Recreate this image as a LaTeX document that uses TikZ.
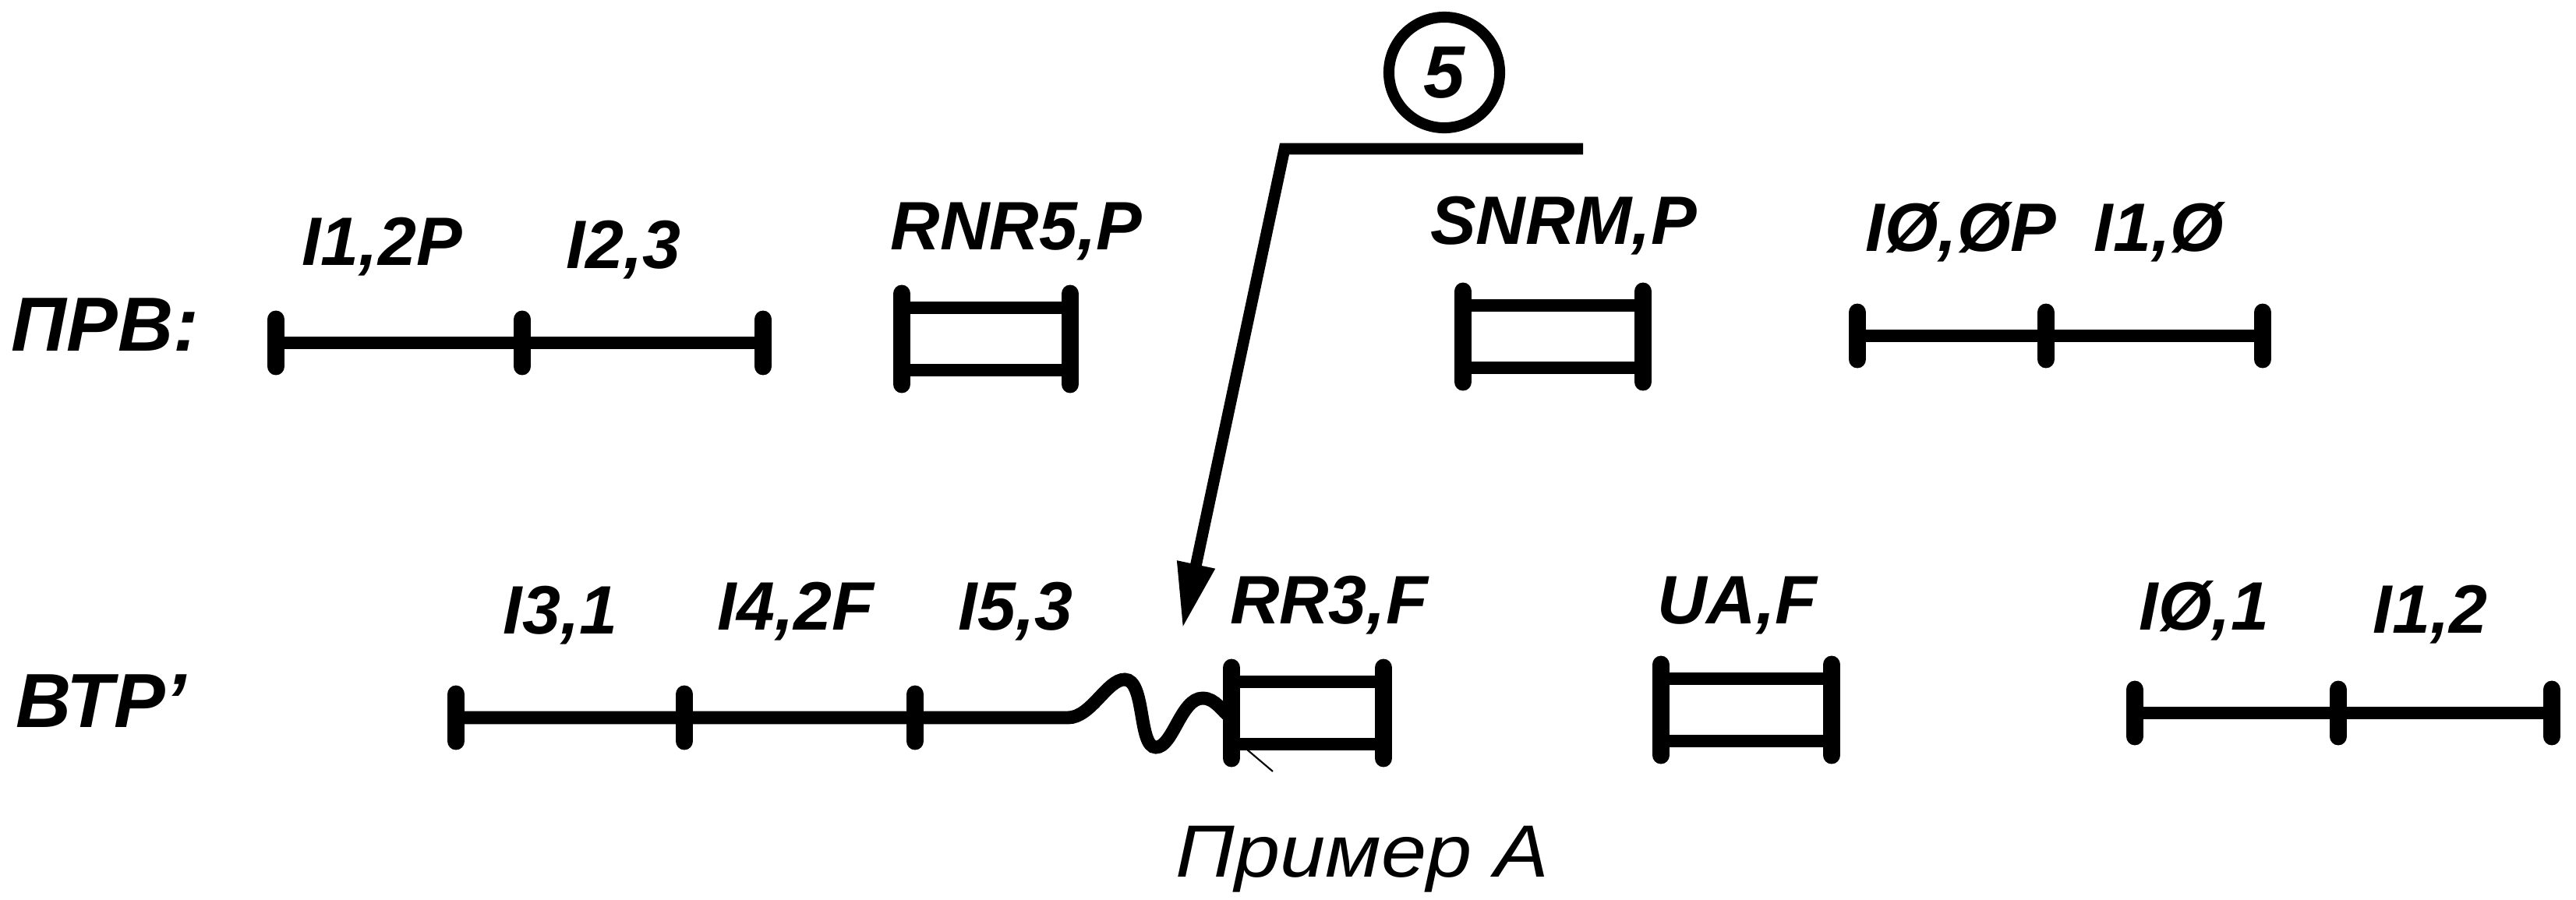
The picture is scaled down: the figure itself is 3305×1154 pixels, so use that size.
\documentclass[tikz,border=0pt]{standalone}
\usepackage{fontspec}
\setmainfont{Liberation Sans}
\usetikzlibrary{arrows.meta}
\newcommand\seqframe[3]{%
  \draw[barline] (#1,#3-58) -- (#1,#3+58);
  \draw[barline] (#2,#3-58) -- (#2,#3+58);
  \draw[hline] (#1,#3-40) -- (#2,#3-40);
  \draw[hline] (#1,#3+40) -- (#2,#3+40);}
\begin{document}
\begin{tikzpicture}[x=0.01cm,y=-0.01cm,
  lbl/.style={anchor=base, inner sep=0pt, font=\fontsize{25}{30}\selectfont\bfseries\itshape},
  rowlbl/.style={anchor=base, inner sep=0pt, font=\fontsize{28}{32}\selectfont\bfseries\itshape},
  seg/.style={line width=4.8pt},
  tickline/.style={line width=6.5pt, line cap=round},
  barline/.style={line width=6.5pt, line cap=round},
  hline/.style={line width=4.8pt},
  leader/.style={line width=4.2pt, -{Triangle[length=24pt,width=13pt]}},
  tk/.pic={\draw[tickline] (0,-30) -- (0,30);}
]
\fill[white] (0,0) rectangle (3305,1154);
\useasboundingbox (0,0) rectangle (3305,1154);

% row labels
\node[rowlbl] (prv) at (135,450) {ПРВ:};
\node[rowlbl] (vtr) at (130,933) {ВТР'};

% ---- top row ----
\coordinate (a1) at (354,440); \coordinate (a2) at (670,440); \coordinate (a3) at (979,440);
\draw[seg] (a1) -- (a3);
\pic at (a1) {tk}; \pic at (a2) {tk}; \pic at (a3) {tk};
\node[lbl] (l11) at (490,340) {I1,2P};
\node[lbl] (l12) at (800,344) {I2,3};

\seqframe{1157}{1373}{435}
\node[lbl] (lrnr) at (1304,320) {RNR5,P};

\seqframe{1877}{2108}{432}
\node[lbl] (lsnrm) at (2006,313) {SNRM,P};

\coordinate (b1) at (2383,431); \coordinate (b2) at (2625,431); \coordinate (b3) at (2903,431);
\draw[seg] (b1) -- (b3);
\pic at (b1) {tk}; \pic at (b2) {tk}; \pic at (b3) {tk};
\node[lbl] (l21) at (2516,322) {IØ,ØP};
\node[lbl] (l22) at (2770,322) {I1,Ø};

% ---- leader with circle 5 ----
\node[circle, draw, line width=4pt, minimum size=1.42cm, inner sep=0pt,
      font=\fontsize{27}{30}\selectfont\bfseries\itshape] (c5) at (1853,93) {5};
\coordinate (ls) at (2031,191);
\coordinate (lc) at (1648,191);
\coordinate (tip) at (1517,807);
\draw[leader] (ls) -- (lc) -- (tip);

% ---- bottom row ----
\coordinate (d1) at (585,921); \coordinate (d2) at (878,921); \coordinate (d3) at (1174,921);
\coordinate (w0) at (1370,921); \coordinate (w1) at (1580,921);
\draw[seg] (d1) -- (w0)
  .. controls (1400,921) and (1420,872) .. (1443,872)
  .. controls (1470,872) and (1460,959) .. (1483,959)
  .. controls (1505,959) and (1515,896) .. (1543,896)
  .. controls (1560,896) and (1568,914) .. (w1);
\pic at (d1) {tk}; \pic at (d2) {tk}; \pic at (d3) {tk};
\node[lbl] (l31) at (719,813) {I3,1};
\node[lbl] (l32) at (1021,808) {I4,2F};
\node[lbl] (l33) at (1303,808) {I5,3};

\seqframe{1580}{1775}{915}
\draw[line width=0.6pt] (1600,962) -- (1633,990);
\node[lbl] (lrr) at (1705,800) {RR3,F};

\seqframe{2131}{2350}{911}
\node[lbl] (lua) at (2229,800) {UA,F};

\coordinate (e1) at (2739,915); \coordinate (e2) at (3000,915); \coordinate (e3) at (3274,915);
\draw[seg] (e1) -- (e3);
\pic at (e1) {tk}; \pic at (e2) {tk}; \pic at (e3) {tk};
\node[lbl] (l41) at (2828,808) {IØ,1};
\node[lbl] (l42) at (3118,812) {I1,2};

% caption
\node[anchor=base, inner sep=0pt, font=\fontsize{27}{30}\selectfont\itshape] (cap) at (1748,1125) {\scalebox{1.1}[1]{Пример A}};
\end{tikzpicture}
\end{document}
